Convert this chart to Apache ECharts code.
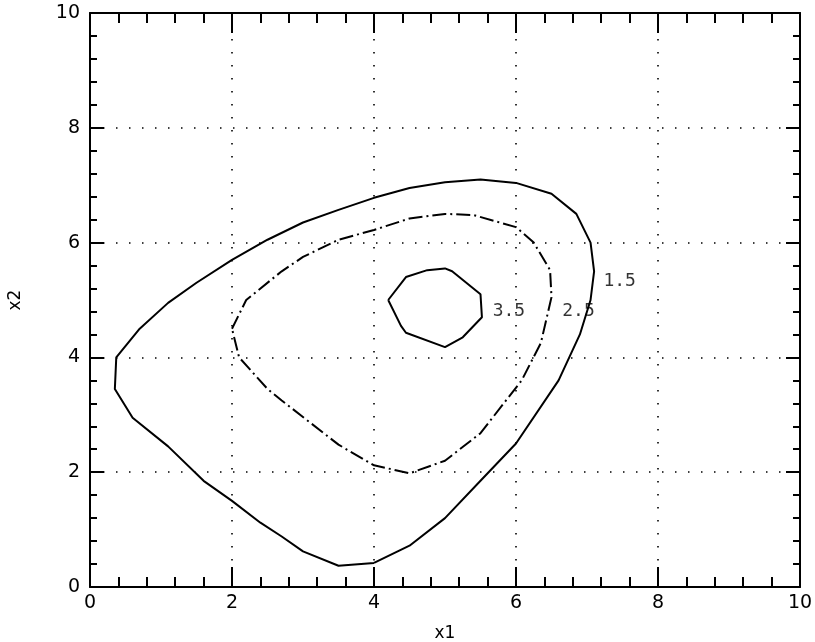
<!DOCTYPE html>
<html><head><meta charset="utf-8">
<script src="https://cdn.jsdelivr.net/npm/echarts@6/dist/echarts.min.js"></script>
<style>html,body{margin:0;padding:0;background:#fff}#c{width:815px;height:642px}</style>
</head><body><div id="c"></div>
<script>
// Contour levels and their polylines [x1, x2]
const levels = ['1.5', '2.5', '3.5'];
const contour15 = [[4.0,0.42],[4.5,0.72],[5.0,1.2],[5.5,1.85],[6.0,2.5],[6.6,3.6],[6.9,4.4],[7.05,5.0],[7.1,5.5],[7.05,6.0],[6.85,6.5],[6.5,6.85],[6.0,7.04],[5.5,7.1],[5.0,7.05],[4.5,6.95],[4.0,6.78],[3.5,6.57],[3.0,6.35],[2.5,6.05],[2.0,5.7],[1.5,5.3],[1.1,4.95],[0.7,4.5],[0.37,4.0],[0.35,3.45],[0.6,2.95],[1.1,2.45],[1.6,1.85],[2.0,1.5],[2.4,1.12],[2.7,0.88],[3.0,0.62],[3.5,0.37],[4.0,0.42]];
const contour25 = [[2.0,4.5],[2.2,5.0],[2.7,5.5],[3.0,5.75],[3.5,6.05],[4.0,6.22],[4.5,6.42],[5.0,6.5],[5.4,6.48],[6.0,6.27],[6.25,6.0],[6.48,5.52],[6.5,5.05],[6.35,4.25],[6.08,3.6],[5.5,2.68],[5.0,2.2],[4.5,1.98],[4.0,2.12],[3.5,2.48],[2.7,3.25],[2.5,3.45],[2.1,4.0],[2.0,4.5]];
const contour35 = [[4.2,5.0],[4.45,5.4],[4.75,5.52],[5.0,5.55],[5.1,5.5],[5.5,5.1],[5.52,4.7],[5.25,4.35],[5.0,4.18],[4.45,4.43],[4.38,4.55],[4.2,5.0]];
const labelX = [7.46, 6.88, 5.9];
const labelY = [5.33, 4.8, 4.8];
const xTicks = [0, 2, 4, 6, 8, 10];
const yTicks = [0, 2, 4, 6, 8, 10];

const font = 'DejaVu Sans';
const chart = echarts.init(document.getElementById('c'), null, {renderer: 'canvas'});
function axisBase(pos, showLabel, majLen, minLen) {
  return {
    type: 'value', min: xTicks[0], max: xTicks[xTicks.length - 1], interval: 2, position: pos,
    axisLine: {show: true, onZero: false, lineStyle: {color: '#000', width: 2}},
    axisTick: {show: true, inside: true, length: majLen, lineStyle: {color: '#000', width: 2}},
    minorTick: {show: true, splitNumber: 5, length: minLen, lineStyle: {color: '#000', width: 2}},
    axisLabel: {show: showLabel, color: '#000', fontFamily: font, fontSize: 19, margin: 7},
    splitLine: {show: false}
  };
}
const xb = axisBase('bottom', true, 20, 10);
xb.splitLine = {show: true, lineStyle: {color: '#000', type: [1.5, 11.5], width: 1.6}};
xb.name = 'x1'; xb.nameLocation = 'middle'; xb.nameGap = 38;
xb.nameTextStyle = {color: '#000', fontFamily: font, fontSize: 17};
const xt = axisBase('top', false, 20, 10);
const yl = axisBase('left', true, 14, 7);
yl.min = yTicks[0]; yl.max = yTicks[yTicks.length - 1];
yl.axisLabel.margin = 10;
yl.splitLine = {show: true, lineStyle: {color: '#000', type: [1.5, 11.5], width: 1.6}};
yl.name = 'x2'; yl.nameLocation = 'middle'; yl.nameGap = 66;
yl.nameTextStyle = {color: '#000', fontFamily: font, fontSize: 17};
const yr = axisBase('right', false, 14, 7);
yr.min = yTicks[0]; yr.max = yTicks[yTicks.length - 1];

function lineSeries(data, type) {
  return {type: 'line', data: data, xAxisIndex: 0, yAxisIndex: 0, symbol: 'none', smooth: false,
    lineStyle: {color: '#000', width: 2, type: type}, silent: true, animation: false};
}
chart.setOption({
  backgroundColor: '#fff',
  animation: false,
  grid: {left: 90, right: 15, top: 13, bottom: 55, containLabel: false, outerBoundsMode: 'none'},
  xAxis: [xb, xt],
  yAxis: [yl, yr],
  series: [
    lineSeries(contour15, 'solid'),
    lineSeries(contour25, [14, 4, 2, 4]),
    lineSeries(contour35, 'solid'),
    {type: 'scatter', symbolSize: 0, silent: true, animation: false,
     data: levels.map((l, i) => ({name: l, value: [labelX[i], labelY[i]]})),
     label: {show: true, position: 'inside', formatter: p => p.name, color: '#000',
       fontFamily: 'DejaVu Sans Mono', fontSize: 18}}
  ]
});
</script></body></html>
